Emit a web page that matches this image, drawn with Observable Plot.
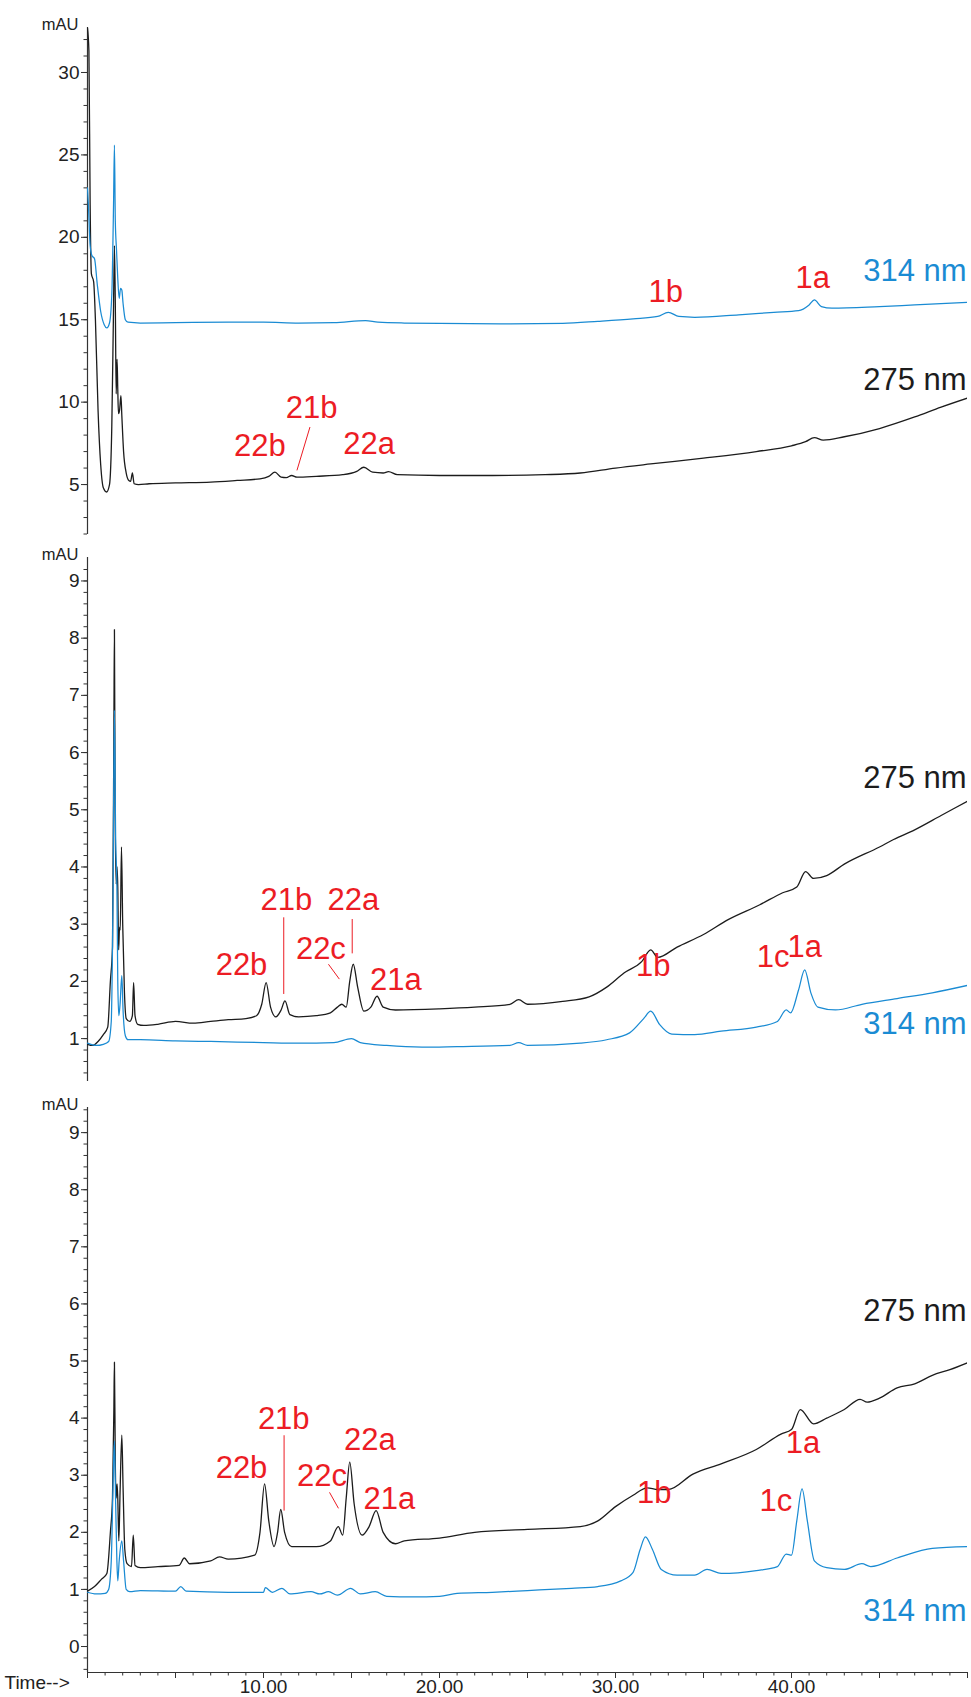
<!DOCTYPE html>
<html><head><meta charset="utf-8">
<script src="https://cdn.jsdelivr.net/npm/d3@7"></script>
<script src="https://cdn.jsdelivr.net/npm/@observablehq/plot@0.6"></script>
<style>
body{margin:0;background:#fff;}
#chart{position:relative;width:971px;height:1697px;font-family:"Liberation Sans",Arial,sans-serif;overflow:hidden;}
#chart svg{position:absolute;left:0;overflow:visible;}
</style></head><body><div id="chart"></div>
<script>
// ---------- DATA (time in min, absorbance in mAU) ----------
const xTickLabels = [10, 20, 30, 40];

// Panel 1
const p1_275 = [[0,32.7],[0.08,31.3],[0.15,22],[0.22,17.8],[0.35,17.3],[0.45,15],[0.6,9.5],[0.75,6.2],[0.9,4.8],[1.08,4.55],[1.25,5.0],[1.38,8.5],[1.47,15],[1.53,19.5],[1.58,16],[1.63,10.5],[1.68,12.6],[1.72,10.8],[1.76,9.3],[1.82,9.5],[1.9,10.4],[1.95,9.2],[2.05,7.0],[2.2,5.7],[2.35,5.25],[2.45,5.2],[2.55,5.7],[2.65,5.05],[2.9,5.0],[3.5,5.05],[5,5.1],[7,5.15],[8.5,5.25],[9.8,5.35],[10.3,5.5],[10.65,5.75],[11.0,5.45],[11.3,5.42],[11.6,5.55],[11.9,5.45],[13,5.5],[14.5,5.6],[15.3,5.8],[15.7,6.05],[16.2,5.75],[16.8,5.7],[17.1,5.78],[17.6,5.6],[20,5.55],[23,5.55],[26,5.6],[28,5.7],[30,6.0],[32,6.25],[35,6.6],[38,7.0],[40,7.35],[40.8,7.6],[41.3,7.85],[41.8,7.7],[43,7.9],[45,8.4],[47,9.1],[48.5,9.7],[50,10.25]];
const p1_314 = [[0,23.0],[0.05,22.0],[0.15,19.5],[0.25,18.9],[0.4,18.7],[0.55,17.2],[0.75,15.5],[0.95,14.7],[1.1,14.5],[1.25,14.8],[1.38,16.5],[1.48,22],[1.53,25.6],[1.58,21],[1.65,19.2],[1.72,17.5],[1.8,16.3],[1.88,16.9],[1.95,16.8],[2.02,16.0],[2.15,15.0],[2.3,14.85],[3,14.8],[5,14.82],[8,14.85],[10,14.85],[12,14.8],[14,14.82],[15.8,14.95],[16.5,14.85],[18,14.8],[20,14.78],[24,14.75],[27,14.78],[29,14.9],[31,15.05],[32.4,15.2],[33.0,15.45],[33.6,15.2],[34.5,15.15],[37,15.3],[39,15.45],[40.4,15.55],[41.0,15.9],[41.3,16.2],[41.7,15.8],[42.3,15.7],[45,15.8],[47,15.9],[50,16.05]];
const p1PeakNames = ["1b","1a","22b","21b","22a"];
const p1PeakT = [32.85,41.2,9.8,12.73,16.0];
const p1PeakV = [16.7,17.5,7.35,9.65,7.45];
const p1Leaders = [[12.64,8.49,11.9,5.86]];
const p1WaveV = {"314 nm": 17.95, "275 nm": 11.32};

// Panel 2
const p2_275 = [[0,0.9],[0.3,0.88],[0.6,0.95],[0.9,1.07],[1.15,1.2],[1.3,2.0],[1.42,2.6],[1.5,6.5],[1.53,8.15],[1.57,5],[1.63,3.7],[1.68,4.0],[1.72,3.65],[1.77,2.55],[1.82,2.95],[1.86,2.9],[1.93,4.35],[2.0,3.0],[2.1,1.8],[2.2,1.35],[2.4,1.3],[2.55,1.4],[2.62,1.98],[2.7,1.4],[2.85,1.25],[3.2,1.23],[4,1.25],[5,1.3],[6,1.27],[7,1.3],[8,1.33],[9,1.35],[9.6,1.4],[9.9,1.6],[10.15,1.98],[10.4,1.55],[10.7,1.38],[11.0,1.5],[11.22,1.66],[11.5,1.42],[12,1.38],[13,1.4],[13.8,1.45],[14.2,1.55],[14.45,1.6],[14.7,1.55],[14.9,2.0],[15.1,2.3],[15.35,1.9],[15.7,1.48],[16.1,1.55],[16.45,1.74],[16.8,1.55],[17.5,1.5],[20,1.52],[22,1.55],[24,1.6],[24.5,1.68],[25,1.6],[27,1.65],[28.5,1.73],[29.5,1.9],[30.5,2.15],[31.5,2.35],[32.0,2.55],[32.4,2.42],[33.5,2.6],[35,2.82],[36.4,3.08],[38.2,3.34],[39.5,3.55],[40.3,3.65],[40.8,3.92],[41.25,3.8],[42,3.85],[43,4.05],[45,4.35],[45.8,4.48],[47,4.65],[48.5,4.9],[50,5.15]];
const p2_314 = [[0,0.92],[0.5,0.88],[0.9,0.9],[1.2,0.95],[1.35,1.3],[1.45,3.5],[1.53,6.74],[1.6,4.5],[1.67,3.65],[1.72,2.0],[1.78,1.4],[1.85,1.6],[1.95,2.1],[2.02,1.5],[2.15,1.05],[2.3,0.98],[3,0.98],[5,0.96],[7,0.95],[10,0.93],[12,0.92],[14,0.93],[15.0,1.0],[15.5,0.93],[17,0.88],[19,0.85],[21,0.86],[24,0.88],[24.5,0.93],[25,0.88],[28,0.92],[29.5,0.98],[30.8,1.1],[31.6,1.35],[32.0,1.48],[32.5,1.25],[33.2,1.08],[34.5,1.07],[36,1.13],[38,1.2],[39.2,1.3],[39.7,1.5],[39.95,1.45],[40.4,1.85],[40.75,2.2],[41.1,1.8],[41.5,1.55],[42.5,1.5],[44,1.6],[46,1.7],[48,1.8],[50,1.93]];
const p2PeakNames = ["22b","21b","22a","22c","21a","1b","1c","1a"];
const p2PeakT = [8.75,11.3,15.1,13.26,17.52,32.14,38.95,40.75];
const p2PeakV = [2.29,3.42,3.42,2.57,2.02,2.27,2.42,2.6];
const p2Leaders = [[11.15,3.12,11.15,1.78],[15.04,3.09,15.04,2.49],[13.69,2.30,14.31,2.04]];
const p2WaveV = {"275 nm": 5.56, "314 nm": 1.25};

// Panel 3
const p3_275 = [[0,0.97],[0.4,1.05],[0.8,1.18],[1.1,1.28],[1.3,2.0],[1.42,2.6],[1.5,4.2],[1.53,4.98],[1.58,3.2],[1.63,2.6],[1.68,2.85],[1.72,2.6],[1.78,1.85],[1.85,2.7],[1.95,3.7],[2.02,2.8],[2.12,1.7],[2.25,1.45],[2.5,1.4],[2.6,1.95],[2.7,1.42],[3,1.38],[4,1.4],[5.2,1.42],[5.5,1.55],[5.8,1.45],[7,1.5],[7.5,1.57],[8,1.53],[9.5,1.6],[9.8,2.0],[10.06,2.85],[10.3,2.2],[10.6,1.75],[10.8,2.0],[10.98,2.4],[11.2,2.0],[11.6,1.75],[13,1.75],[13.8,1.85],[14.25,2.1],[14.5,1.95],[14.7,2.6],[14.9,3.23],[15.15,2.5],[15.6,1.95],[16.0,2.1],[16.4,2.38],[16.8,2.0],[17.5,1.8],[18,1.85],[20,1.9],[22,2.0],[25,2.05],[28,2.1],[29,2.2],[30,2.45],[31,2.65],[31.8,2.78],[32.4,2.75],[33,2.75],[34.4,3.02],[36,3.2],[38,3.45],[39.4,3.72],[40.0,3.8],[40.5,4.15],[41.25,3.9],[42,4.0],[43,4.15],[43.9,4.33],[44.3,4.28],[45,4.35],[46,4.53],[47,4.6],[48,4.75],[49,4.85],[50,4.97]];
const p3_314 = [[0,0.95],[0.5,0.92],[1.0,0.93],[1.2,1.0],[1.35,1.5],[1.45,2.8],[1.53,3.6],[1.6,2.5],[1.67,1.5],[1.72,1.15],[1.8,1.5],[1.95,1.85],[2.05,1.5],[2.2,1.0],[2.4,0.96],[3,0.98],[5,0.97],[5.3,1.05],[5.6,0.97],[8,0.95],[10,0.95],[10.1,1.03],[10.5,0.95],[11.05,1.02],[11.5,0.92],[12.7,0.96],[13.2,0.92],[13.7,0.96],[14.2,0.9],[14.95,1.02],[15.5,0.92],[16.35,0.96],[17,0.88],[18.5,0.87],[20,0.88],[21,0.93],[23,0.95],[25,0.98],[27.5,1.02],[29,1.05],[30.3,1.15],[31.0,1.3],[31.4,1.7],[31.7,1.92],[32.1,1.7],[32.6,1.35],[33.5,1.25],[34.5,1.25],[35.2,1.35],[36,1.28],[38,1.33],[39.2,1.4],[39.7,1.62],[40.0,1.6],[40.3,2.2],[40.6,2.76],[40.9,2.2],[41.3,1.5],[42,1.38],[43,1.35],[44,1.45],[44.5,1.4],[46,1.55],[48,1.72],[50,1.75]];
const p3PeakNames = ["22b","21b","22a","22c","21a","1b","1c","1a"];
const p3PeakT = [8.75,11.15,16.04,13.32,17.15,32.2,39.11,40.65];
const p3PeakV = [3.12,3.99,3.61,2.99,2.59,2.68,2.55,3.57];
const p3Leaders = [[11.17,3.7,11.17,2.38],[13.75,2.7,14.26,2.42]];
const p3WaveV = {"275 nm": 5.88, "314 nm": 0.62};

// ---------- STYLE ----------
const BLUE = "#1a8bd3", BLACK = "#1c1c1c", RED = "#ec1c24", AXIS = "#333";
const FONT = "Liberation Sans, Arial, sans-serif";
const W = 971, ML = 87, MR = 4;

function panel({top, height, mt, mb, yDomain, major, minor, black, blue, names, ts, vs, leaders, waves, xAxis}) {
  const labels = names.map((n, i) => ({n, t: ts[i], v: vs[i]}));
  const waveData = Object.entries(waves).map(([n, v]) => ({n, v, c: n.startsWith("314") ? BLUE : BLACK}));
  const marks = [
    Plot.axisY({ticks: minor, tickSize: 3.5, tickFormat: () => "", stroke: AXIS, label: null}),
    Plot.axisY({ticks: major, tickSize: 6, tickPadding: 2, fontSize: 19, fill: "#222", stroke: AXIS, label: null}),
    Plot.ruleX([0], {stroke: AXIS, strokeWidth: 1.2}),
    Plot.text(["mAU"], {frameAnchor: "top-left", dx: -9, dy: -9, textAnchor: "end", fontSize: 16.5, fill: "#222"}),
    Plot.line(black, {x: d => d[0], y: d => d[1], stroke: BLACK, strokeWidth: 1.3, clip: true, curve: "monotone-x"}),
    Plot.line(blue, {x: d => d[0], y: d => d[1], stroke: BLUE, strokeWidth: 1.25, clip: true, curve: "monotone-x"}),
    Plot.link(leaders, {x1: d => d[0], y1: d => d[1], x2: d => d[2], y2: d => d[3], stroke: RED, strokeWidth: 1}),
    Plot.text(labels, {x: "t", y: "v", text: "n", fill: RED, fontSize: 31}),
    Plot.text(waveData, {x: () => 49.95, y: "v", text: "n", fill: "c", fontSize: 31, textAnchor: "end"})
  ];
  if (xAxis) {
    marks.push(
      Plot.ruleY([yDomain[0]], {stroke: AXIS, strokeWidth: 1.2}),
      Plot.axisX({ticks: d3.range(0, 51, 1), tickSize: 3.5, tickFormat: () => "", stroke: AXIS, label: null}),
      Plot.axisX({ticks: d3.range(0, 51, 5), tickSize: 6, tickFormat: () => "", stroke: AXIS, label: null}),
      Plot.axisX({ticks: xTickLabels, tickSize: 0, tickPadding: 7, tickFormat: d => d.toFixed(2), fontSize: 19, fill: "#222", label: null}),
      Plot.text(["Time-->"], {frameAnchor: "bottom-left", dx: -83, dy: 16, textAnchor: "start", fontSize: 19, fill: "#222"})
    );
  }
  const svg = Plot.plot({
    width: W, height, marginLeft: ML, marginRight: MR, marginTop: mt, marginBottom: mb,
    style: {fontFamily: FONT, background: "transparent", overflow: "visible"},
    x: {domain: [0, 50], axis: null},
    y: {domain: yDomain, axis: null},
    marks
  });
  svg.style.top = top + "px";
  document.getElementById("chart").appendChild(svg);
}

panel({top: 0, height: 540, mt: 27, mb: 6, yDomain: [1.97, 32.73], major: [5,10,15,20,25,30], minor: d3.range(2, 33, 1),
  black: p1_275, blue: p1_314, names: p1PeakNames, ts: p1PeakT, vs: p1PeakV, leaders: p1Leaders, waves: p1WaveV});
panel({top: 540, height: 550, mt: 17, mb: 9, yDomain: [0.25, 9.41], major: d3.range(1, 10), minor: d3.range(2, 47).map(d => d / 5),
  black: p2_275, blue: p2_314, names: p2PeakNames, ts: p2PeakT, vs: p2PeakV, leaders: p2Leaders, waves: p2WaveV});
panel({top: 1090, height: 607, mt: 17, mb: 25, yDomain: [-0.455, 9.44], major: d3.range(0, 10), minor: d3.range(-2, 48).map(d => d / 5),
  black: p3_275, blue: p3_314, names: p3PeakNames, ts: p3PeakT, vs: p3PeakV, leaders: p3Leaders, waves: p3WaveV, xAxis: true});
</script></body></html>
